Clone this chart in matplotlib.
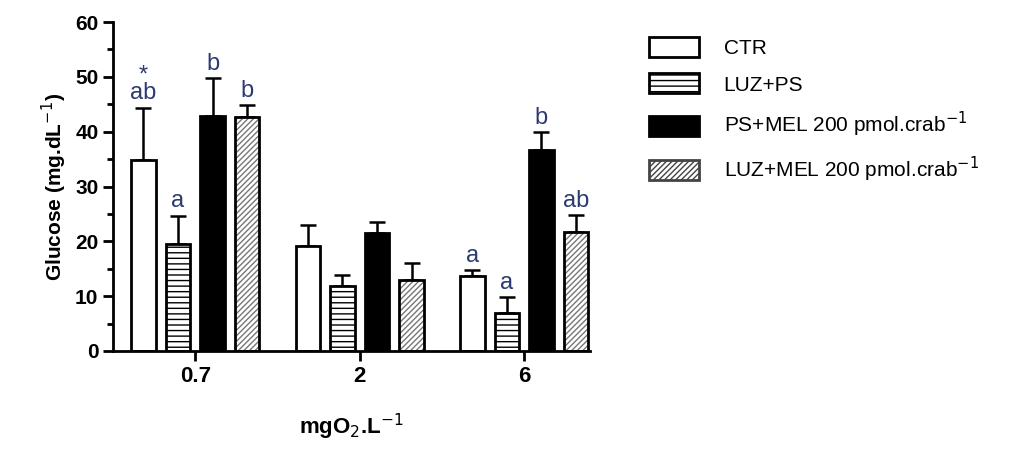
import numpy as np
import matplotlib
matplotlib.use('Agg')
from matplotlib import pyplot as plt
from matplotlib.patches import Patch

plt.rc('font', family='Liberation Sans')
plt.rc('hatch', linewidth=1.0)

groups = ['0.7', '2', '6']
series = ['CTR', 'LUZ+PS', 'PS+MEL 200 pmol.crab$^{-1}$', 'LUZ+MEL 200 pmol.crab$^{-1}$']
means = [[34.8, 19.2, 13.6],
         [19.6, 11.8, 7.0],
         [42.8, 21.6, 36.7],
         [42.6, 13.0, 21.7]]
errs = [[9.6, 3.7, 1.2],
        [5.1, 2.1, 2.8],
        [6.9, 1.9, 3.2],
        [2.3, 3.1, 3.1]]
letters = [['*\nab', '', 'a'],
           ['a', '', 'a'],
           ['b', '', 'b'],
           ['b', '', 'ab']]

fig = plt.figure(figsize=(10.24, 4.51), dpi=100)
ax = fig.add_axes([113/1024, 1 - 351/451, (590 - 113)/1024, (351 - 22)/451])

x = np.arange(len(groups))
width = 0.15
offsets = np.array([-1.5, -0.5, 0.5, 1.5]) * 0.21
faces = ['white', 'white', 'black', 'white']
hatches = [None, '---', None, '//////']
letter_color = '#2b3a70'

for i in range(4):
    xs = x + offsets[i]
    ax.errorbar(xs, means[i], yerr=[np.zeros(3), errs[i]], fmt='none',
                ecolor='black', elinewidth=1.8, capsize=6, capthick=1.8, zorder=1)
    if hatches[i] == '//////':
        ax.bar(xs, means[i], width, color='white', edgecolor='#777777',
               hatch=hatches[i], linewidth=0, zorder=2)
        ax.bar(xs, means[i], width, fill=False, edgecolor='black', linewidth=2, zorder=3)
    else:
        ax.bar(xs, means[i], width, color=faces[i], edgecolor='black',
               hatch=hatches[i], linewidth=2, zorder=2)
    for j in range(3):
        if letters[i][j]:
            ax.text(xs[j], means[i][j] + errs[i][j] + 0.6, letters[i][j],
                    ha='center', va='bottom', fontsize=17, color=letter_color,
                    linespacing=0.75)

ax.set_xlim(-0.5, 2.4)
ax.set_ylim(0, 60)
ax.set_yticks(np.arange(0, 61, 10))
ax.set_yticks(np.arange(0, 61, 5), minor=True)
ax.set_xticks(x)
ax.set_xticklabels(groups, fontsize=16, fontweight='bold')
ax.tick_params(axis='y', labelsize=15, width=2, length=7)
ax.tick_params(axis='y', which='minor', width=2, length=4)
ax.tick_params(axis='x', width=2, length=7)
for lab in ax.get_yticklabels():
    lab.set_fontweight('bold')
for s in ['top', 'right']:
    ax.spines[s].set_visible(False)
for s in ['left', 'bottom']:
    ax.spines[s].set_linewidth(2)
ax.set_ylabel('Glucose (mg.dL$^{-1}$)', fontsize=15, fontweight='bold')
ax.set_xlabel('mgO$_2$.L$^{-1}$', fontsize=16, fontweight='bold', labelpad=18)

handles = [Patch(facecolor='white', edgecolor='black', linewidth=2),
           Patch(facecolor='white', edgecolor='black', hatch='---', linewidth=2),
           Patch(facecolor='black', edgecolor='black', linewidth=2),
           Patch(facecolor='white', edgecolor='#444444', hatch='//////', linewidth=2)]
fig.legend(handles, series, loc='upper left', bbox_to_anchor=(0.615, 0.96),
           frameon=False, fontsize=15, handlelength=2.4, handleheight=1.1,
           labelspacing=0.75, handletextpad=1.2)

fig.savefig('out.png', dpi=100)
